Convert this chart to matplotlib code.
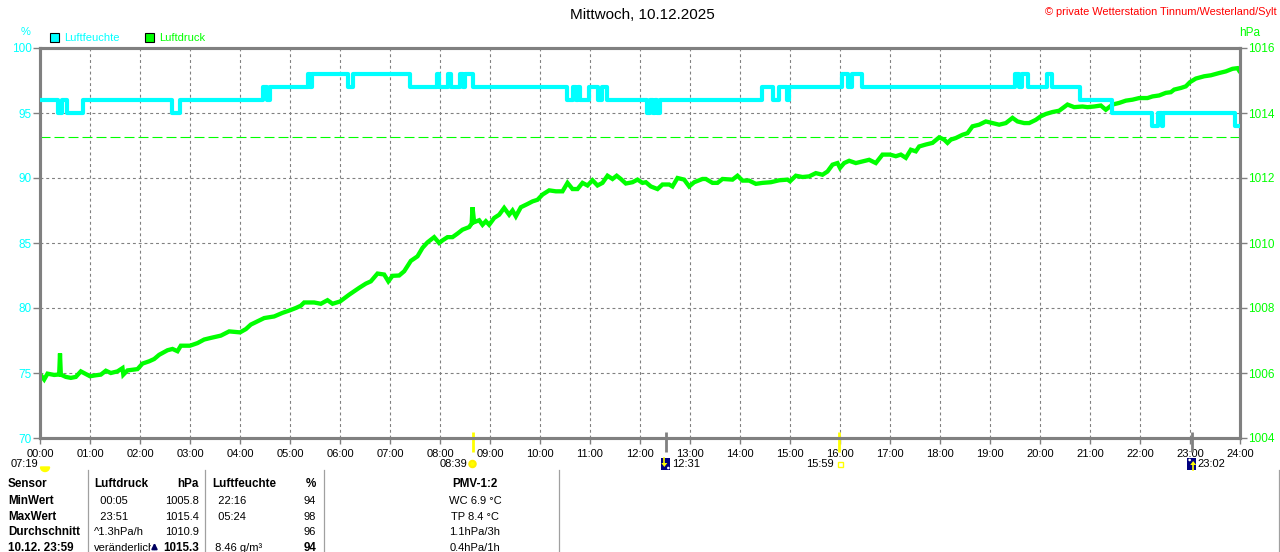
import matplotlib
matplotlib.use('Agg')
import matplotlib.pyplot as plt
from matplotlib.patches import Rectangle, Circle, Wedge, Polygon
from matplotlib.transforms import blended_transform_factory

plt.rcParams['font.family'] = ['Liberation Sans', 'DejaVu Sans']

# ---------------- data ----------------
title = "Mittwoch, 10.12.2025"
copyright_txt = "\u00a9 private Wetterstation Tinnum/Westerland/Sylt"

hour_labels = ["%02d:00" % h for h in range(25)]

# humidity (%) step changes: minute of day -> value
hum_t = [0, 22, 26, 32, 52, 158, 168, 268, 272, 276, 322, 324, 326, 370, 376,
         444, 476, 479, 490, 493, 504, 507, 510, 520, 632, 639, 643, 645, 648,
         659, 670, 674, 680, 684, 728, 732, 735, 738, 740, 744, 866, 880, 887,
         896, 899, 962, 970, 974, 986, 1170, 1175, 1178, 1186, 1208, 1214,
         1248, 1286, 1334, 1342, 1346, 1348, 1434]
hum_v = [96, 95, 96, 95, 96, 95, 96, 97, 96, 97, 98, 97, 98, 97, 98,
         97, 98, 97, 98, 97, 98, 97, 98, 97, 96, 97, 96, 97, 96,
         97, 96, 97, 96, 96, 95, 96, 95, 96, 95, 96, 97, 96, 97,
         96, 97, 98, 97, 98, 97, 98, 97, 98, 97, 98, 97,
         96, 95, 94, 95, 94, 95, 94]

# air pressure (hPa): minute of day -> value
press_t = [0, 5, 9, 17, 21, 23, 24, 25, 31, 37, 43, 49, 55, 60, 67, 73, 79, 85,
           93, 99, 100, 105, 117, 123, 131, 137, 143, 153, 159, 165, 169, 180,
           189, 197, 205, 217, 227, 240, 247, 253, 261, 269, 281, 291, 300, 307,
           313, 317, 329, 337, 345, 351, 360, 371, 383, 391, 397, 405, 413, 418,
           423, 431, 437, 445, 453, 459, 465, 473, 479, 483, 489, 495, 501, 507,
           515, 518, 519, 521, 527, 531, 535, 539, 545, 551, 557, 563, 567, 571,
           577, 585, 591, 597, 603, 611, 619, 627, 633, 639, 645, 651, 657, 663,
           669, 675, 681, 687, 692, 697, 703, 711, 717, 723, 727, 733, 741, 747,
           755, 759, 765, 773, 779, 785, 795, 799, 807, 813, 819, 831, 837, 843,
           851, 859, 867, 877, 887, 897, 900, 907, 915, 923, 931, 939, 945, 951,
           957, 960, 965, 971, 979, 987, 995, 1003, 1011, 1020, 1027, 1033, 1039,
           1045, 1051, 1055, 1063, 1071, 1079, 1085, 1089, 1093, 1099, 1107, 1113,
           1119, 1127, 1135, 1143, 1151, 1159, 1167, 1173, 1181, 1187, 1195, 1201,
           1207, 1215, 1223, 1233, 1241, 1251, 1257, 1265, 1273, 1279, 1287, 1295,
           1303, 1311, 1319, 1329, 1335, 1343, 1351, 1357, 1361, 1369, 1375, 1380,
           1387, 1397, 1405, 1415, 1423, 1431, 1437, 1439]
press_v = [1005.97, 1005.80, 1005.98, 1005.94, 1005.95, 1005.95, 1006.60, 1005.95,
           1005.88, 1005.85, 1005.88, 1006.05, 1005.97, 1005.90, 1005.93, 1005.95,
           1006.07, 1006.00, 1006.05, 1006.15, 1005.95, 1006.08, 1006.12, 1006.29,
           1006.36, 1006.43, 1006.56, 1006.70, 1006.74, 1006.67, 1006.84, 1006.84,
           1006.92, 1007.03, 1007.08, 1007.15, 1007.28, 1007.25, 1007.35, 1007.49,
           1007.59, 1007.69, 1007.74, 1007.85, 1007.93, 1008.00, 1008.07, 1008.17,
           1008.17, 1008.13, 1008.24, 1008.13, 1008.20, 1008.41, 1008.62, 1008.75,
           1008.82, 1009.06, 1009.03, 1008.82, 1008.99, 1009.00, 1009.13, 1009.45,
           1009.59, 1009.85, 1010.02, 1010.18, 1010.00, 1010.08, 1010.18, 1010.18,
           1010.29, 1010.41, 1010.49, 1010.60, 1011.10, 1010.64, 1010.70, 1010.56,
           1010.67, 1010.56, 1010.77, 1010.87, 1011.08, 1010.87, 1011.00, 1010.82,
           1011.10, 1011.20, 1011.28, 1011.33, 1011.49, 1011.62, 1011.59, 1011.59,
           1011.85, 1011.66, 1011.66, 1011.85, 1011.77, 1011.93, 1011.77, 1011.85,
           1012.07, 1011.97, 1012.07, 1011.97, 1011.83, 1011.87, 1011.95, 1011.85,
           1011.87, 1011.74, 1011.66, 1011.80, 1011.80, 1011.74, 1012.00, 1011.95,
           1011.74, 1011.87, 1011.97, 1011.97, 1011.85, 1011.85, 1011.97, 1011.95,
           1012.07, 1011.92, 1011.92, 1011.82, 1011.85, 1011.87, 1011.93, 1011.95,
           1011.90, 1012.07, 1012.03, 1012.05, 1012.15, 1012.10, 1012.20, 1012.41,
           1012.46, 1012.31, 1012.46, 1012.53, 1012.46, 1012.51, 1012.56, 1012.46,
           1012.72, 1012.72, 1012.67, 1012.72, 1012.62, 1012.87, 1012.82, 1012.97,
           1013.03, 1013.08, 1013.25, 1013.18, 1013.08, 1013.18, 1013.23, 1013.33,
           1013.38, 1013.59, 1013.64, 1013.74, 1013.69, 1013.64, 1013.69, 1013.85,
           1013.74, 1013.69, 1013.69, 1013.79, 1013.90, 1013.97, 1014.03, 1014.07,
           1014.26, 1014.18, 1014.20, 1014.18, 1014.20, 1014.23, 1014.10, 1014.26,
           1014.31, 1014.38, 1014.41, 1014.46, 1014.46, 1014.51, 1014.54, 1014.62,
           1014.64, 1014.72, 1014.77, 1014.82, 1014.95, 1015.06, 1015.13, 1015.16,
           1015.23, 1015.28, 1015.36, 1015.38, 1015.30]

std_pressure = 1013.25

# sun / moon events (minute of day)
event_labels = ["07:19", "08:39", "12:31", "15:59", "23:02"]
event_minutes = [439, 519, 751, 959, 1382]

# statistics table
table_rows = [
    ["Sensor", "Luftdruck", "hPa", "Luftfeuchte", "%", "PMV-1:2"],
    ["MinWert", "  00:05", "1005.8", "  22:16", "94", "WC 6.9 \u00b0C"],
    ["MaxWert", "  23:51", "1015.4", "  05:24", "98", "TP 8.4 \u00b0C"],
    ["Durchschnitt", "^1.3hPa/h", "1010.9", "", "96", "1.1hPa/3h"],
    ["10.12. 23:59", "ver\u00e4nderlich", "1015.3", " 8.46 g/m\u00b3", "94", "0.4hPa/1h"],
]

# ---------------- styling ----------------
W, H = 1280, 552
CYAN = '#00ffff'
GREEN = '#00ff00'
GRAY = '#808080'

fig = plt.figure(figsize=(W / 100, H / 100), dpi=100)
fig.patch.set_facecolor('white')

ax2 = fig.add_axes([40 / W, (H - 438) / H, 1200 / W, 390 / H])  # pressure (right)
ax = fig.add_axes(ax2.get_position(), sharex=ax2)  # humidity (left)
ax.patch.set_visible(False)
ax.set_zorder(ax2.get_zorder() + 1)

# pressure axis (drawn below)
ax2.set_xlim(0, 1440)
ax2.set_ylim(1004, 1016)
ax2.yaxis.tick_right()
ax2.set_yticks(range(1004, 1017, 2))
ax2.set_xticks(range(0, 1441, 60))
ax2.grid(True, color=GRAY, linestyle=(0, (2.6, 2.6)), linewidth=0.8)
ax2.plot(press_t, press_v, color=GREEN, linewidth=3.1, solid_joinstyle='miter', zorder=3)
ax2.axhline(std_pressure, color=GREEN, linewidth=0.8, dashes=(9, 3.6), zorder=2)
ax2.tick_params(axis='y', colors=GRAY, labelcolor=GREEN, labelsize=8.5, length=5, width=1, pad=1)
ax2.tick_params(axis='x', colors=GRAY, labelcolor='black', labelsize=8, length=4, width=1, pad=4)
ax2.set_xticklabels(hour_labels)

# humidity axis (on top)
hx = hum_t + [1440]
hy = hum_v + [hum_v[-1]]
ax.step(hx, hy, where='post', color=CYAN, linewidth=3.0, zorder=4)
ax.set_ylim(70, 100)
ax.set_yticks(range(70, 101, 5))
ax.tick_params(axis='y', colors=GRAY, labelcolor=CYAN, labelsize=8.5, length=5, width=1, pad=1)
ax.tick_params(axis='x', bottom=False, labelbottom=False)

for a in (ax, ax2):
    for s in a.spines.values():
        s.set_color(GRAY)
        s.set_linewidth(2.2)

# event ticks on x axis
bt = blended_transform_factory(ax2.transData, ax2.transAxes)
ev_colors = [None, '#ffff00', GRAY, '#ffff00', GRAY]
for m, c in zip(event_minutes, ev_colors):
    if c is None:
        continue
    ax2.plot([m, m], [-0.035, 0.015], transform=bt, color=c, linewidth=2.0,
             clip_on=False, zorder=6, solid_capstyle='butt')

# overlay in pixel coordinates
ov = fig.add_axes([0, 0, 1, 1], zorder=10)
ov.set_xlim(0, W)
ov.set_ylim(H, 0)
ov.axis('off')
ov.patch.set_visible(False)

ov.text(642, 15, title, ha='center', va='center', fontsize=11, color='black')
ov.text(1277, 12, copyright_txt, ha='right', va='center', fontsize=7.9, color='#ff0000')
ov.text(26, 32, "%", ha='center', va='center', fontsize=8, color=CYAN)
ov.text(1250, 33, "hPa", ha='center', va='center', fontsize=8.5, color=GREEN)

# legend
ov.add_patch(Rectangle((50, 33), 9, 9, facecolor=CYAN, edgecolor='black', linewidth=0.8))
ov.text(64, 38, "Luftfeuchte", ha='left', va='center', fontsize=8, color=CYAN)
ov.add_patch(Rectangle((145, 33), 9, 9, facecolor=GREEN, edgecolor='black', linewidth=0.8))
ov.text(159, 38, "Luftdruck", ha='left', va='center', fontsize=8, color=GREEN)

# event labels & icons
ev_x = [40 + m / 1440 * 1200 for m in event_minutes]
ly = 464
# dawn (shown at left edge)
ov.text(38, ly, event_labels[0], ha='right', va='center', fontsize=8, color='black')
ov.add_patch(Wedge((45, 467), 4.5, 0, 180, facecolor='#ffff00', edgecolor='#ffff00'))
# sunrise
ov.text(ev_x[1] - 5, ly, event_labels[1], ha='right', va='center', fontsize=8, color='black')
ov.add_patch(Circle((ev_x[1], ly), 3.2, facecolor='#ffff00', edgecolor='#ffee00', linewidth=1.5))
# moon set / moon rise
for xm, lab, up in ((ev_x[2], event_labels[2], False), (ev_x[4], event_labels[4], True)):
    ov.add_patch(Rectangle((xm - 4.5, ly - 6), 9, 12, facecolor='#000080', edgecolor='none'))
    if up:
        ov.add_patch(Polygon([[xm + 1.5, ly - 3], [xm - 1.5, ly + 1], [xm + 4.5, ly + 1]],
                             closed=True, facecolor='#ffff00', edgecolor='none'))
        ov.plot([xm + 1.5, xm + 1.5], [ly, ly + 6], color='#ffff00', linewidth=1.2)
        ov.add_patch(Circle((xm - 2, ly - 4), 1.3, facecolor='white', edgecolor='none'))
    else:
        ov.add_patch(Polygon([[xm - 1.5, ly + 3], [xm - 4.5, ly - 1], [xm + 1.5, ly - 1]],
                             closed=True, facecolor='#ffff00', edgecolor='none'))
        ov.plot([xm - 1.5, xm - 1.5], [ly - 6, ly], color='#ffff00', linewidth=1.2)
        ov.add_patch(Circle((xm + 2.5, ly + 4), 1.3, facecolor='white', edgecolor='none'))
    ov.text(xm + 6, ly, lab, ha='left', va='center', fontsize=8, color='black')
# sunset
ov.text(ev_x[3] - 5, ly, event_labels[3], ha='right', va='center', fontsize=8, color='black')
ov.add_patch(Rectangle((ev_x[3] - 1, ly - 2.5), 5, 5, facecolor='none', edgecolor='#ffff00', linewidth=1.0))

# table
for xv in (88, 205, 324, 559, 1279):
    ov.plot([xv, xv], [470, H], color='#a0a0a0', linewidth=0.9)

row_y = [484, 501, 517, 532, 548]
BF = 8.4
for i, (r, y) in enumerate(zip(table_rows, row_y)):
    ov.text(8, y, r[0], ha='left', va='center', fontsize=BF, fontweight='bold', color='black')
    w = 'bold' if i == 0 else 'normal'
    fs = BF if i == 0 else 8
    ov.text(94, y, r[1], ha='left', va='center', fontsize=fs, fontweight=w, color='black')
    w2 = 'bold' if i in (0, 4) else 'normal'
    fs2 = BF if i in (0, 4) else 8
    ov.text(199, y, r[2], ha='right', va='center', fontsize=fs2, fontweight=w2, color='black')
    ov.text(212, y, r[3], ha='left', va='center', fontsize=fs, fontweight=w, color='black')
    ov.text(316, y, r[4], ha='right', va='center', fontsize=fs2, fontweight=w2, color='black')
    ov.text(475, y, r[5], ha='center', va='center', fontsize=fs, fontweight=w, color='black')

# trend arrow in last row
ov.add_patch(Rectangle((151, 540), 7, 12, facecolor='white', edgecolor='none', zorder=5))
ov.annotate('', xy=(154.5, 540), xytext=(154.5, 552),
            arrowprops=dict(arrowstyle='-|>', color='#000060', lw=1.4, mutation_scale=8), zorder=6)

fig.savefig('out.png', dpi=100, facecolor='white')
